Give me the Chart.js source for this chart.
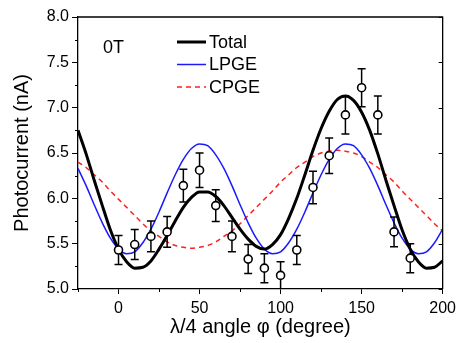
<!DOCTYPE html>
<html>
<head>
<meta charset="utf-8">
<script src="https://cdn.jsdelivr.net/npm/chart.js@4/dist/chart.umd.min.js"></script>
<style>
  html, body { margin: 0; padding: 0; background: #fff; }
  #wrap { width: 461px; height: 343px; }
</style>
</head>
<body>
<div id="wrap"><canvas id="c" width="461" height="343"></canvas></div>
<script>
// ---- data ----
const fitAngles = [-25,-20,-15,-10,-5,0,5,10,15,20,25,30,35,40,45,50,55,60,65,70,75,80,85,90,95,100,105,110,115,120,125,130,135,140,145,150,155,160,165,170,175,180,185,190,195,200];
const totalFit = [6.75,6.49,6.20,5.92,5.65,5.44,5.30,5.23,5.24,5.31,5.44,5.59,5.75,5.90,6.01,6.07,6.07,6.02,5.92,5.79,5.66,5.55,5.47,5.44,5.49,5.60,5.78,6.00,6.26,6.53,6.77,6.96,7.09,7.13,7.08,6.95,6.75,6.49,6.20,5.92,5.65,5.44,5.30,5.23,5.24,5.31];
const lpgeFit = [6.33,6.14,5.93,5.73,5.56,5.44,5.39,5.41,5.51,5.66,5.85,6.06,6.26,6.43,6.55,6.60,6.58,6.48,6.33,6.14,5.93,5.73,5.56,5.44,5.39,5.41,5.51,5.66,5.85,6.06,6.26,6.43,6.55,6.60,6.58,6.48,6.33,6.14,5.93,5.73,5.56,5.44,5.39,5.41,5.51,5.66];
const cpgeFit = [6.40,6.34,6.26,6.18,6.08,5.99,5.90,5.81,5.72,5.64,5.58,5.52,5.48,5.46,5.45,5.46,5.48,5.52,5.58,5.64,5.72,5.81,5.90,5.99,6.08,6.18,6.26,6.34,6.40,6.46,6.50,6.52,6.53,6.52,6.50,6.46,6.40,6.34,6.26,6.18,6.08,5.99,5.90,5.81,5.72,5.64];

const measAngles = [0,10,20,30,40,50,60,70,80,90,100,110,120,130,140,150,160,170,180];
const measValues = [5.43,5.49,5.58,5.63,6.14,6.31,5.92,5.58,5.33,5.23,5.15,5.43,6.12,6.47,6.92,7.22,6.92,5.63,5.34];
const measErrors = [0.16,0.165,0.17,0.17,0.18,0.19,0.175,0.17,0.16,0.16,0.15,0.16,0.18,0.195,0.21,0.21,0.21,0.165,0.16];

const xTicks = [0,50,100,150,200];
const xMinorTicks = [-25,25,75,125,175];
const yTicks = [5.0,5.5,6.0,6.5,7.0,7.5,8.0];
const yMinorTicks = [5.25,5.75,6.25,6.75,7.25,7.75];

const legendLabels = ['Total','LPGE','CPGE'];
const panelLabel = '0T';

const FONT = '"Liberation Sans", Arial, sans-serif';

function pts(xs, ys) { return xs.map((x, i) => ({x: x, y: ys[i]})); }

const decor = {
  id: 'decor',
  beforeDatasetDraw(chart, args) {
    if (args.index !== 0) return;
    const {ctx, chartArea, scales} = chart;
    ctx.save();
    ctx.beginPath();
    ctx.rect(chartArea.left, chartArea.top, chartArea.right - chartArea.left, chartArea.bottom - chartArea.top);
    ctx.clip();
    ctx.strokeStyle = '#000';
    ctx.lineWidth = 1.5;
    measAngles.forEach((a, i) => {
      const px = scales.x.getPixelForValue(a);
      const yt = scales.y.getPixelForValue(measValues[i] + measErrors[i]);
      const yb = scales.y.getPixelForValue(measValues[i] - measErrors[i]);
      ctx.beginPath();
      ctx.moveTo(px, yt); ctx.lineTo(px, yb);
      ctx.moveTo(px - 4, yt); ctx.lineTo(px + 4, yt);
      ctx.moveTo(px - 4, yb); ctx.lineTo(px + 4, yb);
      ctx.stroke();
    });
    ctx.restore();
  },
  afterDraw(chart) {
    const {ctx, chartArea, scales} = chart;
    const {left, right, top, bottom} = chartArea;
    ctx.save();
    ctx.strokeStyle = '#000';
    ctx.lineWidth = 1.3;
    ctx.beginPath();
    ctx.moveTo(left, top); ctx.lineTo(right, top); ctx.lineTo(right, bottom);
    ctx.stroke();
    ctx.lineWidth = 1;
    ctx.beginPath();
    yMinorTicks.forEach(v => {
      const py = Math.round(scales.y.getPixelForValue(v)) + 0.5;
      ctx.moveTo(left - 3, py); ctx.lineTo(left, py);
    });
    xMinorTicks.forEach(v => {
      const px = Math.round(scales.x.getPixelForValue(v)) + 0.5;
      ctx.moveTo(px, bottom); ctx.lineTo(px, bottom + 3);
    });
    yTicks.forEach(v => {
      const py = Math.round(scales.y.getPixelForValue(v)) + 0.5;
      ctx.moveTo(right, py); ctx.lineTo(right - 4, py);
    });
    ctx.stroke();

    // panel label
    ctx.fillStyle = '#000';
    ctx.font = '18px ' + FONT;
    ctx.textAlign = 'left';
    ctx.textBaseline = 'middle';
    ctx.fillText(panelLabel, left + 25, top + 31);

    // legend
    const styles = [
      {color: '#000000', width: 3, dash: []},
      {color: '#1a1aff', width: 1.5, dash: []},
      {color: '#ff2020', width: 1.5, dash: [5, 4]}
    ];
    legendLabels.forEach((lab, i) => {
      const y = top + 25 + i * 22.5;
      const x0 = left + 99;
      ctx.save();
      ctx.strokeStyle = styles[i].color;
      ctx.lineWidth = styles[i].width;
      ctx.setLineDash(styles[i].dash);
      ctx.beginPath();
      ctx.moveTo(x0, y); ctx.lineTo(x0 + 29, y);
      ctx.stroke();
      ctx.restore();
      ctx.fillStyle = '#000';
      ctx.font = '18px ' + FONT;
      ctx.textBaseline = 'middle';
      ctx.fillText(lab, x0 + 32, y + 1);
    });
    ctx.restore();
  }
};

new Chart(document.getElementById('c'), {
  type: 'scatter',
  data: {
    datasets: [
      {
        label: 'Data',
        data: pts(measAngles, measValues),
        showLine: false,
        pointRadius: 4,
        pointHoverRadius: 4,
        pointBorderWidth: 1.6,
        pointBorderColor: '#000',
        pointBackgroundColor: '#fff',
        order: 0
      },
      {
        label: legendLabels[0],
        data: pts(fitAngles, totalFit),
        showLine: true,
        borderColor: '#000',
        borderWidth: 3,
        pointRadius: 0,
        cubicInterpolationMode: 'monotone',
        order: 1
      },
      {
        label: legendLabels[1],
        data: pts(fitAngles, lpgeFit),
        showLine: true,
        borderColor: '#1a1aff',
        borderWidth: 1.5,
        pointRadius: 0,
        cubicInterpolationMode: 'monotone',
        order: 2
      },
      {
        label: legendLabels[2],
        data: pts(fitAngles, cpgeFit),
        showLine: true,
        borderColor: '#ff2020',
        borderWidth: 1.5,
        borderDash: [5, 4],
        pointRadius: 0,
        cubicInterpolationMode: 'monotone',
        order: 3
      }
    ]
  },
  options: {
    responsive: false,
    animation: false,
    events: [],
    layout: { padding: { top: 17, right: 17, left: 0, bottom: 0 } },
    plugins: { legend: { display: false }, tooltip: { enabled: false } },
    scales: {
      x: {
        type: 'linear',
        min: -25,
        max: 200,
        afterFit(scale) { scale.height = 54; },
        afterBuildTicks(scale) { scale.ticks = xTicks.map(v => ({value: v})); },
        ticks: {
          color: '#000',
          font: { family: FONT, size: 16 },
          padding: 5,
          maxRotation: 0,
          callback: v => String(v)
        },
        grid: { drawOnChartArea: false, tickLength: 5, color: '#000', tickWidth: 1 },
        border: { display: true, color: '#000', width: 1.3 },
        title: {
          display: true,
          text: 'λ/4 angle φ (degree)',
          color: '#000',
          font: { family: FONT, size: 20 },
          padding: 4
        }
      },
      y: {
        type: 'linear',
        min: 5.0,
        max: 8.0,
        afterFit(scale) { scale.width = 78; },
        afterBuildTicks(scale) { scale.ticks = yTicks.map(v => ({value: v})); },
        ticks: {
          color: '#000',
          font: { family: FONT, size: 16 },
          padding: 3,
          callback: v => Number(v).toFixed(1)
        },
        grid: { drawOnChartArea: false, tickLength: 6, color: '#000', tickWidth: 1 },
        border: { display: true, color: '#000', width: 1.3 },
        title: {
          display: true,
          text: 'Photocurrent (nA)',
          color: '#000',
          font: { family: FONT, size: 20 },
          padding: 10
        }
      }
    }
  },
  plugins: [decor]
});
</script>
</body>
</html>
